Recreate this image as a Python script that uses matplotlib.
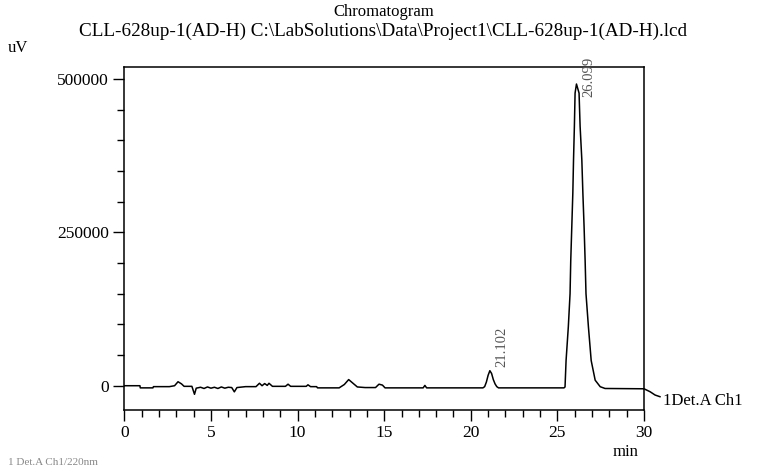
import numpy as np
import matplotlib.pyplot as plt
from matplotlib.ticker import MultipleLocator

# trace (min, uV)
time_min = [
    0.0, 0.9, 0.92, 1.65, 1.68, 2.6, 2.9, 3.1, 3.3, 3.45, 3.9, 4.05, 4.15,
    4.4, 4.6, 4.8, 5.0, 5.2, 5.4, 5.6, 5.8, 6.0, 6.2, 6.35, 6.5, 7.0, 7.6,
    7.8, 7.95, 8.1, 8.25, 8.35, 8.55, 9.3, 9.45, 9.6, 10.5, 10.6, 10.75,
    11.1, 11.15, 12.4, 12.7, 12.95, 13.2, 13.45, 13.9, 14.5, 14.7, 14.9,
    15.05, 17.25, 17.35, 17.45, 20.7, 20.8, 20.9, 21.0, 21.1, 21.2, 21.3,
    21.4, 21.5, 21.6, 25.38, 25.44, 25.5, 25.63, 25.73, 25.77, 25.83, 25.89,
    25.93, 25.98, 26.02, 26.1, 26.25, 26.31, 26.41, 26.47, 26.54, 26.6,
    26.65, 26.79, 26.95, 27.18, 27.47, 27.75, 30.0,
]
signal_uv = [
    0, 0, -3500, -3500, -1500, -1500, 0, 6500, 3000, -1000, -1000, -14000,
    -4000, -2500, -4500, -2000, -4000, -2500, -4500, -2000, -4000, -2500,
    -3000, -10000, -3000, -1500, -1500, 4000, 0, 3500, 500, 4000, -1000,
    -1000, 2500, -1000, -1000, 1500, -1500, -1500, -3500, -3500, 2000, 10000,
    4000, -2000, -3000, -3000, 2500, 1000, -3500, -3500, 500, -3500, -3500,
    -1500, 6000, 17000, 24500, 20000, 10000, 3000, -1500, -3500, -3500,
    -2000, 41000, 96000, 150000, 204000, 259000, 314000, 368000, 423000,
    477000, 491800, 477000, 423000, 368000, 314000, 259000, 204000, 150000,
    96000, 41000, 9000, -1600, -4500, -5000,
]

peak_times = [21.102, 26.099]
peak_heights = [24500, 491800]

# little tail drawn past the frame to the channel label
tail_x = [30.0, 30.35, 30.64, 30.92]
tail_y = [-5000, -9800, -15200, -17900]

plt.rcParams["font.family"] = "Liberation Serif"

fig = plt.figure(figsize=(7.6, 4.68), dpi=100)
ax = fig.add_axes([0.1636, 0.1239, 0.8474 - 0.1636, 0.8575 - 0.1239])

ax.plot(time_min, signal_uv, color="black", lw=1.1)
ax.plot(tail_x, tail_y, color="black", lw=1.1, clip_on=False)

for t, h in zip(peak_times, peak_heights):
    # label sits right of the apex, kept inside the frame
    ax.text(t + 0.72, min(h + 6000, 470000), f"{t:.3f}", rotation=90,
            color="#555555", fontsize=10.5, ha="center", va="bottom")

ax.set_xlim(0, 30)
ax.set_ylim(-39600, 520050)
ax.xaxis.set_major_locator(MultipleLocator(5))
ax.xaxis.set_minor_locator(MultipleLocator(1))
ax.yaxis.set_major_locator(MultipleLocator(250000))
ax.yaxis.set_minor_locator(MultipleLocator(50000))
ax.tick_params(which="major", direction="out", length=8, width=1.0,
               labelsize=12.5, pad=3)
ax.tick_params(which="minor", direction="out", length=5, width=1.0)
for sp in ax.spines.values():
    sp.set_linewidth(1.1)

fig.text(384 / 760, 1 - 12 / 468, "Chromatogram", ha="center", va="center",
         fontsize=12)
fig.text(383 / 760, 1 - 31 / 468,
         "CLL-628up-1(AD-H) C:\\LabSolutions\\Data\\Project1\\CLL-628up-1(AD-H).lcd",
         ha="center", va="center", fontsize=13.8)
fig.text(8 / 760, 1 - 48 / 468, "uV", ha="left", va="center", fontsize=12)
fig.text(626 / 760, 1 - 452 / 468, "min", ha="center", va="center", fontsize=12)
fig.text(663 / 760, 1 - 401 / 468, "1Det.A Ch1", ha="left", va="center",
         fontsize=12)
fig.text(8 / 760, 1 / 468, "1 Det.A Ch1/220nm", ha="left", va="bottom",
         fontsize=8, color="#888888")

fig.savefig("out.png", dpi=100)
